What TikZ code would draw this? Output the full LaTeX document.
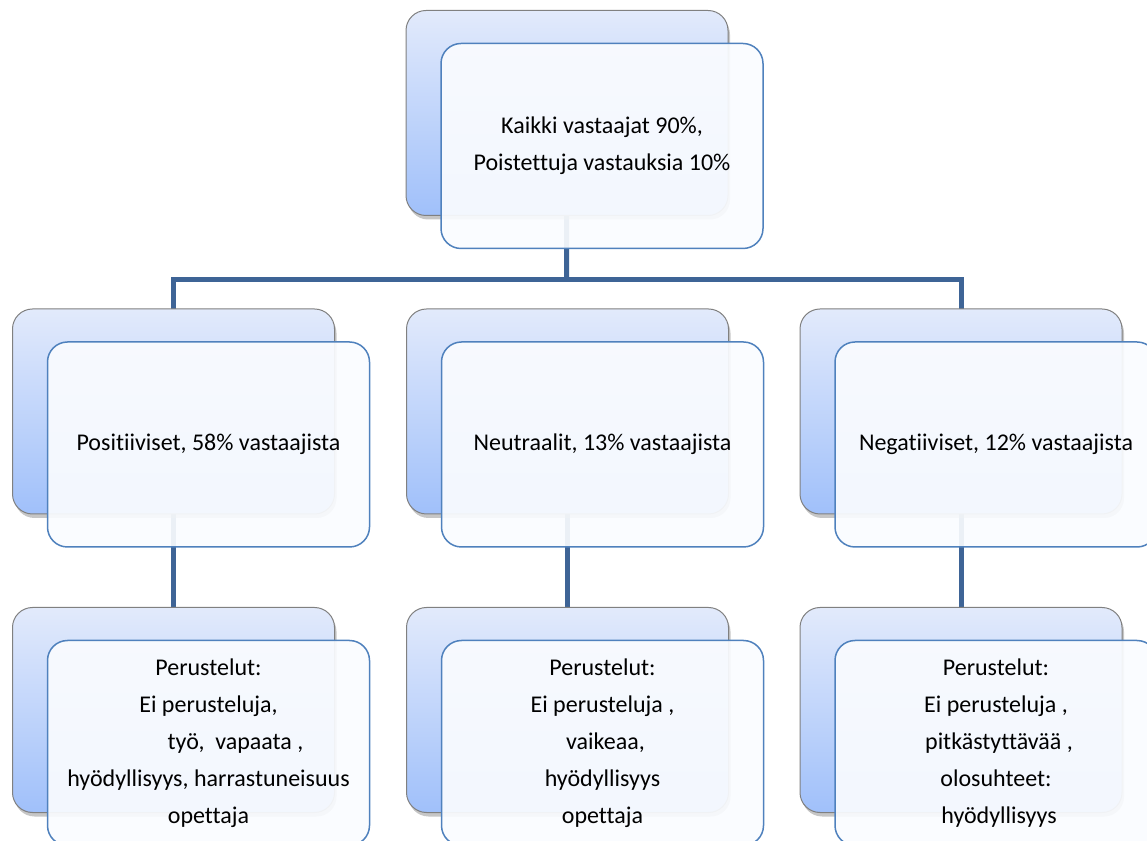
\documentclass[tikz,border=0pt]{standalone}
\usepackage{fontspec}
\setmainfont{Carlito}[Ligatures={NoCommon}]
\usetikzlibrary{shadows}
\definecolor{conn}{RGB}{62,100,150}
\definecolor{frontedge}{RGB}{79,129,189}
\definecolor{backtop}{RGB}{226,234,251}
\definecolor{backbot}{RGB}{160,192,250}
\definecolor{backedge}{RGB}{128,128,128}
\definecolor{frontfill}{RGB}{250,252,255}
\tikzset{
  backbox/.style={rectangle, rounded corners=20pt, minimum width=322pt, minimum height=205pt,
    draw=backedge, line width=1pt, top color=backtop, bottom color=backbot,
    drop shadow={opacity=0.45, shadow xshift=2pt, shadow yshift=-4pt}},
  frontbox/.style={rectangle, rounded corners=20pt, minimum width=322pt, minimum height=205pt,
    draw=frontedge, line width=1.5pt, fill=frontfill, fill opacity=0.92, text opacity=1,
    align=center, font=\fontsize{24}{37}\selectfont, text=black},
  connector/.style={draw=conn, line width=5pt}
}
\begin{document}
\begin{tikzpicture}[x=1pt,y=1pt]
\useasboundingbox (0,0) rectangle (1147,840);
\clip (0,0) rectangle (1147,840);
% coordinates for the bus
\coordinate (busL) at (173.5,560);
\coordinate (busM) at (566.5,560);
\coordinate (busR) at (961,560);
% box centres
\path (567,727) coordinate (topc);
\path (173.5,428.5) coordinate (m1c);
\path (567.5,428.5) coordinate (m2c);
\path (961,428.5) coordinate (m3c);
\path (173.5,130) coordinate (b1c);
\path (567.5,130) coordinate (b2c);
\path (961,130) coordinate (b3c);
% connectors (behind)
\draw[connector] (topc) -- (busM);
\draw[connector, line cap=rect] (busL |- m1c) -- (busL) -- (busR) -- (busR |- m3c);
\draw[connector] (m1c) -- (b1c);
\draw[connector] (m2c) -- (b2c);
\draw[connector] (m3c) -- (b3c);
% back boxes
\node[backbox] (topb) at (topc) {};
\node[backbox] (m1b) at (m1c) {};
\node[backbox] (m2b) at (m2c) {};
\node[backbox] (m3b) at (m3c) {};
\node[backbox] (b1b) at (b1c) {};
\node[backbox] (b2b) at (b2c) {};
\node[backbox] (b3b) at (b3c) {};
% front boxes
\node[frontbox] (topf) at ([shift={(35,-33)}]topc) {Kaikki vastaajat 90\%,\\Poistettuja vastauksia 10\%};
\node[frontbox] (m1f) at ([shift={(35,-33)}]m1c) {Positiiviset, 58\% vastaajista};
\node[frontbox] (m2f) at ([shift={(35,-33)}]m2c) {Neutraalit, 13\% vastaajista};
\node[frontbox] (m3f) at ([shift={(35,-33)}]m3c) {Negatiiviset, 12\% vastaajista};
\node[frontbox] (b1f) at ([shift={(35,-33)}]b1c) {Perustelut:\\Ei perusteluja,\\\hspace*{54pt}työ,\ \ vapaata ,\\hyödyllisyys, harrastuneisuus\\opettaja};
\node[frontbox] (b2f) at ([shift={(35,-33)}]b2c) {Perustelut:\\Ei perusteluja ,\\\hspace*{6pt}vaikeaa,\\hyödyllisyys\\opettaja};
\node[frontbox] (b3f) at ([shift={(35,-33)}]b3c) {Perustelut:\\Ei perusteluja ,\\\hspace*{6pt}pitkästyttävää ,\\olosuhteet:\\\hspace*{6pt}hyödyllisyys};
\end{tikzpicture}
\end{document}
